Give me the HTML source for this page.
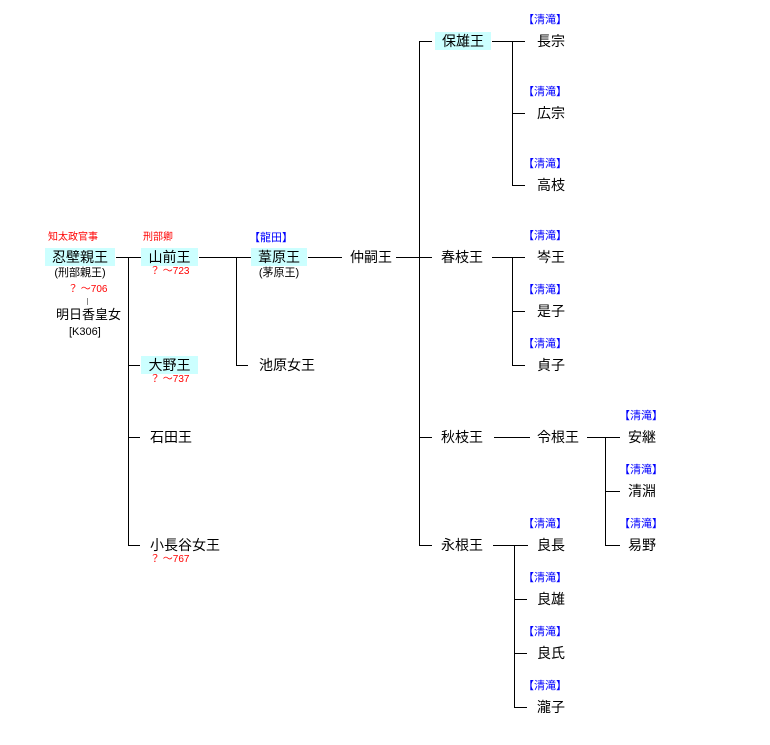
<!DOCTYPE html>
<html><head><meta charset="utf-8"><style>
body{margin:0;width:770px;height:745px;background:#fff;position:relative;overflow:hidden;font-family:"Liberation Sans","Noto Sans CJK JP",sans-serif;}
div{position:absolute;white-space:nowrap}
.n{font-size:14px;line-height:18px;color:#000}
.b{background:#ccffff}
.r{font-size:10px;line-height:12px;color:#f00}
.l{font-size:11px;line-height:12px;color:#00f}
.s{font-size:11px;line-height:14px;color:#000}
.h{height:1px;background:#000}
.v{width:1px;background:#000}
</style></head><body>
<!-- 忍壁親王 -->
<div class="r" style="left:48px;top:232px">知太政官事</div>
<div class="n b" style="left:45px;top:248px;width:70px;text-align:center">忍壁親王</div>
<div class="s" style="left:45px;top:266px;width:70px;text-align:center">(刑部親王)</div>
<div class="r" style="left:68px;top:284px">？ ～706</div>
<div class="v" style="left:87px;top:298px;height:7px;background:#888"></div>
<div class="n" style="left:56px;top:306px;font-size:13px">明日香皇女</div>
<div class="s" style="left:69px;top:325px">[K306]</div>
<div class="h" style="left:116px;top:257px;width:25px"></div>
<div class="v" style="left:128px;top:257px;height:289px"></div>
<div class="h" style="left:128px;top:365px;width:12px"></div>
<div class="h" style="left:128px;top:437px;width:12px"></div>
<div class="h" style="left:128px;top:545px;width:12px"></div>
<!-- 山前王 -->
<div class="r" style="left:143px;top:232px">刑部卿</div>
<div class="n b" style="left:141px;top:248px;width:57px;text-align:center">山前王</div>
<div class="r" style="left:150px;top:266px">？ ～723</div>
<div class="n b" style="left:141px;top:356px;width:57px;text-align:center">大野王</div>
<div class="r" style="left:150px;top:374px">？ ～737</div>
<div class="n" style="left:150px;top:428px">石田王</div>
<div class="n" style="left:150px;top:536px">小長谷女王</div>
<div class="r" style="left:150px;top:554px">？ ～767</div>
<div class="h" style="left:199px;top:257px;width:62px"></div>
<div class="v" style="left:236px;top:257px;height:109px"></div>
<div class="h" style="left:236px;top:365px;width:12px"></div>
<!-- 葦原王 -->
<div class="l" style="left:249px;top:232px">【龍田】</div>
<div class="n b" style="left:251px;top:248px;width:56px;text-align:center">葦原王</div>
<div class="s" style="left:251px;top:266px;width:56px;text-align:center">(茅原王)</div>
<div class="n" style="left:259px;top:356px">池原女王</div>
<div class="h" style="left:308px;top:257px;width:34px"></div>
<div class="n" style="left:350px;top:248px">仲嗣王</div>
<div class="h" style="left:396px;top:257px;width:36px"></div>
<div class="v" style="left:419px;top:41px;height:505px"></div>
<div class="h" style="left:419px;top:41px;width:13px"></div>
<div class="h" style="left:419px;top:437px;width:13px"></div>
<div class="h" style="left:419px;top:545px;width:13px"></div>
<!-- 保雄王 -->
<div class="n b" style="left:435px;top:32px;width:56px;text-align:center">保雄王</div>
<div class="h" style="left:492px;top:41px;width:33px"></div>
<div class="v" style="left:512px;top:41px;height:145px"></div>
<div class="h" style="left:512px;top:113px;width:13px"></div>
<div class="h" style="left:512px;top:185px;width:13px"></div>
<div class="l" style="left:523px;top:14px">【清滝】</div><div class="n" style="left:537px;top:32px">長宗</div>
<div class="l" style="left:523px;top:86px">【清滝】</div><div class="n" style="left:537px;top:104px">広宗</div>
<div class="l" style="left:523px;top:158px">【清滝】</div><div class="n" style="left:537px;top:176px">高枝</div>
<!-- 春枝王 -->
<div class="n" style="left:441px;top:248px">春枝王</div>
<div class="h" style="left:492px;top:257px;width:33px"></div>
<div class="v" style="left:512px;top:257px;height:109px"></div>
<div class="h" style="left:512px;top:311px;width:13px"></div>
<div class="h" style="left:512px;top:365px;width:13px"></div>
<div class="l" style="left:523px;top:230px">【清滝】</div><div class="n" style="left:537px;top:248px">岑王</div>
<div class="l" style="left:523px;top:284px">【清滝】</div><div class="n" style="left:537px;top:302px">是子</div>
<div class="l" style="left:523px;top:338px">【清滝】</div><div class="n" style="left:537px;top:356px">貞子</div>
<!-- 秋枝王 -->
<div class="n" style="left:441px;top:428px">秋枝王</div>
<div class="h" style="left:494px;top:437px;width:36px"></div>
<div class="n" style="left:537px;top:428px">令根王</div>
<div class="h" style="left:587px;top:437px;width:33px"></div>
<div class="v" style="left:605px;top:437px;height:109px"></div>
<div class="h" style="left:605px;top:491px;width:15px"></div>
<div class="h" style="left:605px;top:545px;width:15px"></div>
<div class="l" style="left:619px;top:410px">【清滝】</div><div class="n" style="left:628px;top:428px">安継</div>
<div class="l" style="left:619px;top:464px">【清滝】</div><div class="n" style="left:628px;top:482px">清淵</div>
<div class="l" style="left:619px;top:518px">【清滝】</div><div class="n" style="left:628px;top:536px">易野</div>
<!-- 永根王 -->
<div class="n" style="left:441px;top:536px">永根王</div>
<div class="h" style="left:493px;top:545px;width:35px"></div>
<div class="v" style="left:514px;top:545px;height:163px"></div>
<div class="h" style="left:514px;top:599px;width:13px"></div>
<div class="h" style="left:514px;top:653px;width:13px"></div>
<div class="h" style="left:514px;top:707px;width:13px"></div>
<div class="l" style="left:523px;top:518px">【清滝】</div><div class="n" style="left:537px;top:536px">良長</div>
<div class="l" style="left:523px;top:572px">【清滝】</div><div class="n" style="left:537px;top:590px">良雄</div>
<div class="l" style="left:523px;top:626px">【清滝】</div><div class="n" style="left:537px;top:644px">良氏</div>
<div class="l" style="left:523px;top:680px">【清滝】</div><div class="n" style="left:537px;top:698px">瀧子</div>
</body></html>
